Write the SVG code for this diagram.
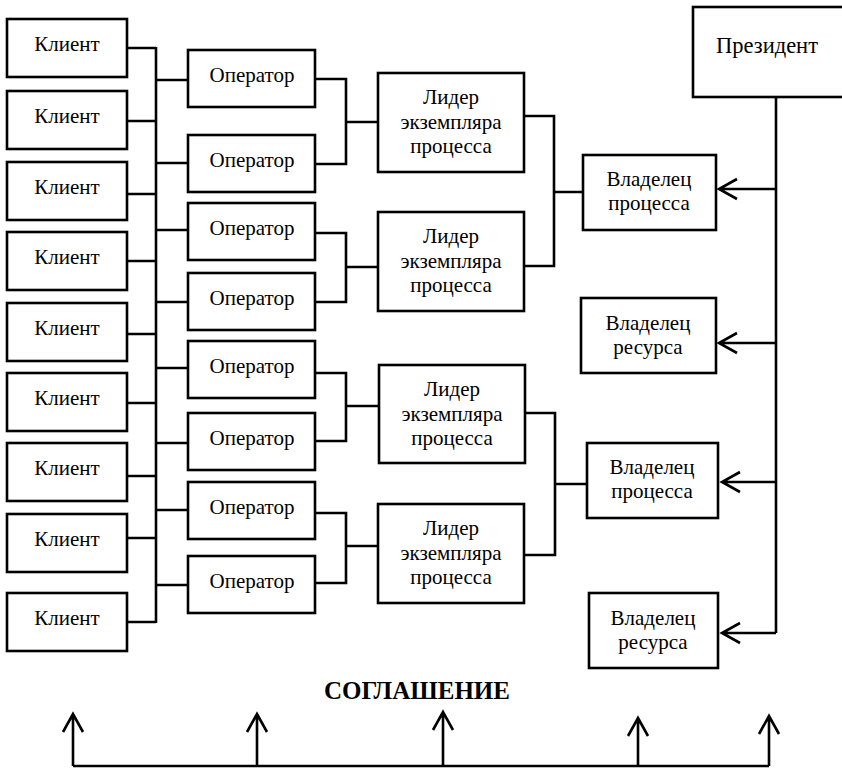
<svg xmlns="http://www.w3.org/2000/svg" width="842" height="768" viewBox="0 0 842 768">
  <style>
    .box { fill: #fff; stroke: #000; stroke-width: 2.6; }
    .ln { fill: none; stroke: #000; stroke-width: 2.6; }
    text { font-size: 21px; fill: #000; text-anchor: middle; }
    .big { font-size: 22.5px; }
    .title { font-size: 25px; font-weight: bold; }
  </style>
  <rect width="842" height="768" fill="#fff"/>

  <!-- connectors -->
  <g id="connectors">
    <!-- clients to the common bus -->
    <path class="ln" d="M127,48 H156 M127,121 H156 M127,194 H156 M127,261 H156 M127,334 H156 M127,403 H156 M127,476 H156 M127,538 H156 M127,622 H156"/>
    <path class="ln" d="M156,47 V623"/>
    <!-- bus to operators -->
    <path class="ln" d="M156,80 H188 M156,163 H188 M156,230 H188 M156,302 H188 M156,368 H188 M156,443 H188 M156,510 H188 M156,585 H188"/>
    <!-- operator pairs to process instance leaders -->
    <path class="ln" d="M315,79 H346 V164 H315 M346,122 H378"/>
    <path class="ln" d="M315,233 H346 V302 H315 M346,267 H378"/>
    <path class="ln" d="M315,373 H346 V441 H315 M346,406 H378"/>
    <path class="ln" d="M315,513 H346 V583 H315 M346,546 H378"/>
    <!-- leader pairs to process owners -->
    <path class="ln" d="M524,116 H554 V266 H524 M554,192 H583"/>
    <path class="ln" d="M525,413 H555 V555 H524 M555,484 H587"/>
    <!-- president trunk and arrows to owners (open heads) -->
    <path class="ln" d="M776,97 V633"/>
    <path class="ln" d="M776,189 H719 M737,179 L719,189 L737,199"/>
    <path class="ln" d="M776,343 H719 M737,333 L719,343 L737,353"/>
    <path class="ln" d="M776,482 H722 M740,472 L722,482 L740,492"/>
    <path class="ln" d="M776,633 H722 M740,623 L722,633 L740,643"/>
    <!-- agreement base line with upward arrows -->
    <path class="ln" d="M73,766 H769"/>
    <path class="ln" d="M73,766 V714 M63,732 L73,714 L83,732"/>
    <path class="ln" d="M257,766 V714 M247,732 L257,714 L267,732"/>
    <path class="ln" d="M443,766 V712 M433,730 L443,712 L453,730"/>
    <path class="ln" d="M638,766 V718 M628,736 L638,718 L648,736"/>
    <path class="ln" d="M769,766 V716 M759,734 L769,716 L779,734"/>
  </g>

  <!-- clients -->
  <g id="client1"><rect class="box" x="7" y="19" width="120" height="58"/><text font-family="Liberation Serif" x="67" y="51">Клиент</text></g>
  <g id="client2"><rect class="box" x="7" y="91" width="120" height="58"/><text font-family="Liberation Serif" x="67" y="123">Клиент</text></g>
  <g id="client3"><rect class="box" x="7" y="162" width="120" height="58"/><text font-family="Liberation Serif" x="67" y="194">Клиент</text></g>
  <g id="client4"><rect class="box" x="7" y="232" width="120" height="58"/><text font-family="Liberation Serif" x="67" y="264">Клиент</text></g>
  <g id="client5"><rect class="box" x="7" y="303" width="120" height="58"/><text font-family="Liberation Serif" x="67" y="335">Клиент</text></g>
  <g id="client6"><rect class="box" x="7" y="373" width="120" height="58"/><text font-family="Liberation Serif" x="67" y="405">Клиент</text></g>
  <g id="client7"><rect class="box" x="7" y="443" width="120" height="58"/><text font-family="Liberation Serif" x="67" y="475">Клиент</text></g>
  <g id="client8"><rect class="box" x="7" y="514" width="120" height="58"/><text font-family="Liberation Serif" x="67" y="546">Клиент</text></g>
  <g id="client9"><rect class="box" x="7" y="593" width="120" height="58"/><text font-family="Liberation Serif" x="67" y="625">Клиент</text></g>

  <!-- operators -->
  <g id="operator1"><rect class="box" x="188" y="50" width="127" height="57"/><text font-family="Liberation Serif" x="252" y="82">Оператор</text></g>
  <g id="operator2"><rect class="box" x="188" y="135" width="127" height="57"/><text font-family="Liberation Serif" x="252" y="167">Оператор</text></g>
  <g id="operator3"><rect class="box" x="188" y="203" width="127" height="57"/><text font-family="Liberation Serif" x="252" y="235">Оператор</text></g>
  <g id="operator4"><rect class="box" x="188" y="273" width="127" height="57"/><text font-family="Liberation Serif" x="252" y="305">Оператор</text></g>
  <g id="operator5"><rect class="box" x="188" y="341" width="127" height="57"/><text font-family="Liberation Serif" x="252" y="373">Оператор</text></g>
  <g id="operator6"><rect class="box" x="188" y="413" width="127" height="57"/><text font-family="Liberation Serif" x="252" y="445">Оператор</text></g>
  <g id="operator7"><rect class="box" x="188" y="482" width="127" height="57"/><text font-family="Liberation Serif" x="252" y="514">Оператор</text></g>
  <g id="operator8"><rect class="box" x="188" y="556" width="127" height="57"/><text font-family="Liberation Serif" x="252" y="588">Оператор</text></g>

  <!-- process instance leaders -->
  <g id="leader1"><rect class="box" x="378" y="73" width="146" height="99"/>
    <text font-family="Liberation Serif" x="451" y="104">Лидер</text><text font-family="Liberation Serif" x="451" y="129">экземпляра</text><text font-family="Liberation Serif" x="451" y="153">процесса</text></g>
  <g id="leader2"><rect class="box" x="378" y="212" width="146" height="99"/>
    <text font-family="Liberation Serif" x="451" y="243">Лидер</text><text font-family="Liberation Serif" x="451" y="268">экземпляра</text><text font-family="Liberation Serif" x="451" y="292">процесса</text></g>
  <g id="leader3"><rect class="box" x="379" y="365" width="146" height="98"/>
    <text font-family="Liberation Serif" x="452" y="396">Лидер</text><text font-family="Liberation Serif" x="452" y="421">экземпляра</text><text font-family="Liberation Serif" x="452" y="445">процесса</text></g>
  <g id="leader4"><rect class="box" x="378" y="504" width="146" height="99"/>
    <text font-family="Liberation Serif" x="451" y="535">Лидер</text><text font-family="Liberation Serif" x="451" y="560">экземпляра</text><text font-family="Liberation Serif" x="451" y="584">процесса</text></g>

  <!-- owners -->
  <g id="processOwner1"><rect class="box" x="583" y="155" width="133" height="75"/>
    <text font-family="Liberation Serif" x="649" y="186">Владелец</text><text font-family="Liberation Serif" x="649" y="210">процесса</text></g>
  <g id="resourceOwner1"><rect class="box" x="581" y="298" width="135" height="75"/>
    <text font-family="Liberation Serif" x="648" y="330">Владелец</text><text font-family="Liberation Serif" x="648" y="354">ресурса</text></g>
  <g id="processOwner2"><rect class="box" x="587" y="443" width="131" height="75"/>
    <text font-family="Liberation Serif" x="652" y="474">Владелец</text><text font-family="Liberation Serif" x="652" y="498">процесса</text></g>
  <g id="resourceOwner2"><rect class="box" x="589" y="593" width="129" height="75"/>
    <text font-family="Liberation Serif" x="653" y="625">Владелец</text><text font-family="Liberation Serif" x="653" y="649">ресурса</text></g>

  <!-- president -->
  <g id="president"><rect class="box" x="693" y="7" width="160" height="90"/>
    <text font-family="Liberation Serif" class="big" x="767" y="53">Президент</text></g>

  <!-- agreement -->
  <g id="agreement"><text font-family="Liberation Serif" class="title" x="417" y="699">СОГЛАШЕНИЕ</text></g>
</svg>
